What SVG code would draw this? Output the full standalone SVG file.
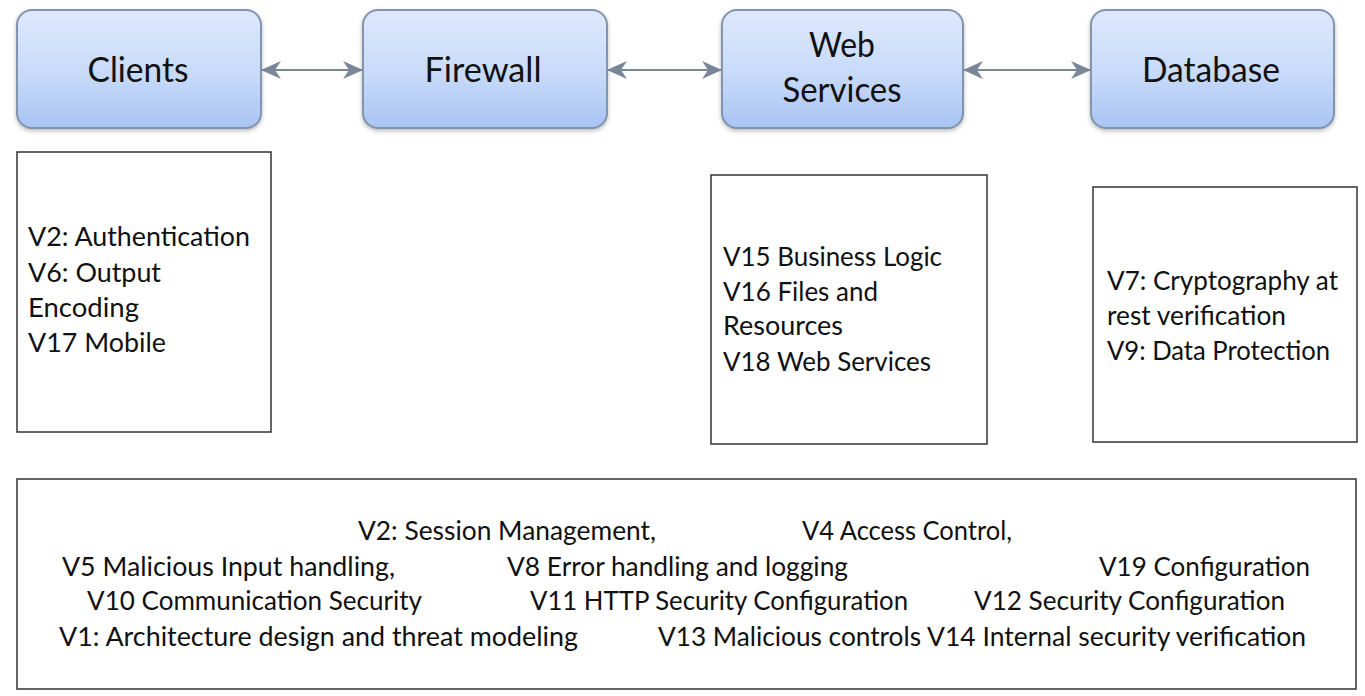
<svg xmlns="http://www.w3.org/2000/svg" width="1365" height="696" viewBox="0 0 1365 696">
<style>
.node rect.top{fill:url(#blueGrad);stroke:#8294ae;stroke-width:2;filter:url(#shadow)}
.t{font-family:Lato,"Open Sans","Liberation Sans",sans-serif;fill:#111}
.big{font-size:35px;text-anchor:middle}
.body{font-size:26.5px}
.box{fill:#fff;stroke:#333;stroke-width:1.5}
.conn line{stroke:#7a8698;stroke-width:2;marker-start:url(#ah);marker-end:url(#ah)}
</style>
<defs>
<linearGradient id="blueGrad" x1="0" y1="0" x2="0" y2="1">
<stop offset="0" stop-color="#dde8fc"/>
<stop offset="0.5" stop-color="#cadcf9"/>
<stop offset="1" stop-color="#a8c4f3"/>
</linearGradient>
<filter id="shadow" x="-10%" y="-10%" width="120%" height="130%">
<feDropShadow dx="0" dy="2" stdDeviation="2" flood-color="#666" flood-opacity="0.45"/>
</filter>
<marker id="ah" viewBox="0 0 20 20" markerWidth="20" markerHeight="20" refX="19" refY="10" orient="auto-start-reverse" markerUnits="userSpaceOnUse">
<path d="M0,1 L20,10 L0,19 L6,10 z" fill="#7a8698"/>
</marker>
</defs>
<rect width="1365" height="696" fill="#fff"/>

<g id="clients" class="node">
<rect class="top" x="17" y="10" width="244" height="118" rx="15"/>
<text class="t big" x="138" y="82" textLength="101" lengthAdjust="spacingAndGlyphs">Clients</text>
</g>
<g id="firewall" class="node">
<rect class="top" x="363" y="10" width="244" height="118" rx="15"/>
<text class="t big" x="483" y="82" textLength="117" lengthAdjust="spacingAndGlyphs">Firewall</text>
</g>
<g id="webservices" class="node">
<rect class="top" x="722" y="10" width="241" height="118" rx="15"/>
<text class="t big" x="842" y="57" textLength="66" lengthAdjust="spacingAndGlyphs">Web</text>
<text class="t big" x="842" y="102" textLength="119" lengthAdjust="spacingAndGlyphs">Services</text>
</g>
<g id="database" class="node">
<rect class="top" x="1091" y="10" width="243" height="118" rx="15"/>
<text class="t big" x="1211" y="82" textLength="138" lengthAdjust="spacingAndGlyphs">Database</text>
</g>

<g id="connectors" class="conn">
<line x1="262" y1="70" x2="362" y2="70"/>
<line x1="608" y1="70" x2="721" y2="70"/>
<line x1="964" y1="70" x2="1090" y2="70"/>
</g>

<g id="clients-info">
<rect class="box" x="17" y="152" width="254" height="280"/>
<text class="t body" x="28" y="246" textLength="222" lengthAdjust="spacingAndGlyphs">V2: Authentication</text>
<text class="t body" x="28" y="282" textLength="133" lengthAdjust="spacingAndGlyphs">V6: Output</text>
<text class="t body" x="28" y="317" textLength="111" lengthAdjust="spacingAndGlyphs">Encoding</text>
<text class="t body" x="28" y="352" textLength="138" lengthAdjust="spacingAndGlyphs">V17 Mobile</text>
</g>

<g id="webservices-info">
<rect class="box" x="711" y="175" width="276" height="269"/>
<text class="t body" x="723" y="266" textLength="219" lengthAdjust="spacingAndGlyphs">V15 Business Logic</text>
<text class="t body" x="723" y="301" textLength="155" lengthAdjust="spacingAndGlyphs">V16 Files and</text>
<text class="t body" x="723" y="335" textLength="120" lengthAdjust="spacingAndGlyphs">Resources</text>
<text class="t body" x="723" y="371" textLength="208" lengthAdjust="spacingAndGlyphs">V18 Web Services</text>
</g>

<g id="database-info">
<rect class="box" x="1093" y="187" width="264" height="255"/>
<text class="t body" x="1107" y="290" textLength="231" lengthAdjust="spacingAndGlyphs">V7: Cryptography at</text>
<text class="t body" x="1107" y="325" textLength="179" lengthAdjust="spacingAndGlyphs">rest verification</text>
<text class="t body" x="1107" y="360" textLength="223" lengthAdjust="spacingAndGlyphs">V9: Data Protection</text>
</g>

<g id="common-info">
<rect class="box" x="17" y="479" width="1339" height="210"/>
<text class="t body" x="358" y="540" textLength="298" lengthAdjust="spacingAndGlyphs">V2: Session Management,</text>
<text class="t body" x="802" y="540" textLength="210" lengthAdjust="spacingAndGlyphs">V4 Access Control,</text>
<text class="t body" x="62" y="576" textLength="333" lengthAdjust="spacingAndGlyphs">V5 Malicious Input handling,</text>
<text class="t body" x="507" y="576" textLength="341" lengthAdjust="spacingAndGlyphs">V8 Error handling and logging</text>
<text class="t body" x="1099" y="576" textLength="211" lengthAdjust="spacingAndGlyphs">V19 Configuration</text>
<text class="t body" x="87" y="610" textLength="335" lengthAdjust="spacingAndGlyphs">V10 Communication Security</text>
<text class="t body" x="530" y="610" textLength="378" lengthAdjust="spacingAndGlyphs">V11 HTTP Security Configuration</text>
<text class="t body" x="974" y="610" textLength="311" lengthAdjust="spacingAndGlyphs">V12 Security Configuration</text>
<text class="t body" x="59" y="646" textLength="519" lengthAdjust="spacingAndGlyphs">V1: Architecture design and threat modeling</text>
<text class="t body" x="658" y="646" textLength="263" lengthAdjust="spacingAndGlyphs">V13 Malicious controls</text>
<text class="t body" x="927" y="646" textLength="379" lengthAdjust="spacingAndGlyphs">V14 Internal security verification</text>
</g>
</svg>
